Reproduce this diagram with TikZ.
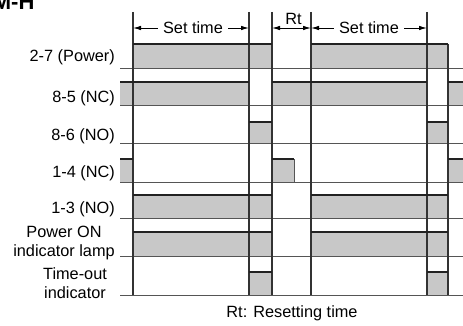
\documentclass[tikz,border=0pt]{standalone}
\usepackage{fontspec}
\setmainfont{Liberation Sans}
\usetikzlibrary{arrows.meta}
\definecolor{barfill}{HTML}{C8C8C8}
\definecolor{edgecol}{HTML}{222222}
\definecolor{rowcol}{HTML}{555555}
\definecolor{vcol}{HTML}{333333}
\begin{document}
\begin{tikzpicture}[x=1pt,y=-1pt,
  lbl/.style={font=\fontsize{16.3}{19}\selectfont, inner sep=0pt},
  barbox/.style={fill=barfill},
  topedge/.style={draw=edgecol, line width=2pt},
  rowline/.style={draw=rowcol, line width=1pt},
  tickline/.style={draw=vcol, line width=1.2pt},
  dimline/.style={draw=black, line width=0.9pt, -{Latex[length=8pt,width=4.5pt]}},
]
\useasboundingbox (0,0) rectangle (463,326);

% gray bars: x1/x2/top/base
\foreach \xa/\xb/\yt/\yb in {
  133/272/44/69, 311/448/44/69,
  120/249/82/106, 272/427/82/106, 448/463/82/106,
  249/272/122/144, 427/448/122/144,
  120/133/159/182, 272/294/159/182, 448/463/159/182,
  133/272/195/218, 311/448/195/218,
  133/272/232/256, 311/448/232/256,
  249/272/272/295, 427/448/272/295}
{ \fill[barbox] (\xa,\yt) rectangle (\xb,\yb); }

% short pulse right edge
\draw[draw=rowcol, line width=0.6pt] (294,159) -- (294,182);

% row base lines
\foreach \yb in {69,106,144,182,218,256,295}
{ \draw[rowline] (120,\yb) -- (463,\yb); }

% vertical time markers
\foreach \xv in {133,249,272,311,427}
{ \draw[tickline] (\xv,12) -- (\xv,295); }
\draw[tickline] (448,44) -- (448,295);

% thick top edges
\foreach \xa/\xb/\yt in {
  133/272/44, 311/448/44,
  120/249/82, 272/427/82, 448/463/82,
  249/272/122, 427/448/122,
  120/133/159, 272/294/159, 448/463/159,
  133/272/195, 311/448/195,
  133/272/232, 311/448/232,
  249/272/272, 427/448/272}
{ \draw[topedge] (\xa,\yt) -- (\xb,\yt); }

% dimension arrows
\coordinate (t1) at (133,28);
\coordinate (t2) at (249,28);
\coordinate (t3) at (272,28);
\coordinate (t4) at (311,28);
\coordinate (t5) at (427,28);
\node[lbl, inner xsep=5pt] (st1) at (193,28) {Set time};
\node[lbl, inner xsep=5pt] (st2) at (369,28) {Set time};
\node[lbl] (rt) at (293.5,18.7) {Rt};
\draw[dimline] (st1.west) -- (t1);
\draw[dimline] (st1.east) -- (t2);
\draw[dimline] (st2.west) -- (t4);
\draw[dimline] (st2.east) -- (t5);
\draw[draw=black, line width=0.9pt, {Latex[length=8pt,width=4.5pt]}-{Latex[length=8pt,width=4.5pt]}] (t3) -- (t4);

% labels
\node[lbl, anchor=base east] (l1) at (115,62) {2-7 (Power)};
\node[lbl, anchor=base east] (l2) at (115,103) {8-5 (NC)};
\node[lbl, anchor=base east] (l3) at (115,141) {8-6 (NO)};
\node[lbl, anchor=base east] (l4) at (115,177) {1-4 (NC)};
\node[lbl, anchor=base east] (l5) at (115,213) {1-3 (NO)};
\node[lbl, align=center, anchor=north] (l6) at (64,226) {Power ON\\indicator lamp};
\node[lbl, align=center, anchor=north] (l7) at (75,267.3) {Time-out\\indicator};

\node[font=\fontsize{22}{26}\selectfont\bfseries, anchor=base east, inner sep=0pt] (title) at (34.6,9.3) {M-H};
\node[lbl, anchor=base] (note) at (292,317) {Rt: Resetting time};
\end{tikzpicture}
\end{document}
